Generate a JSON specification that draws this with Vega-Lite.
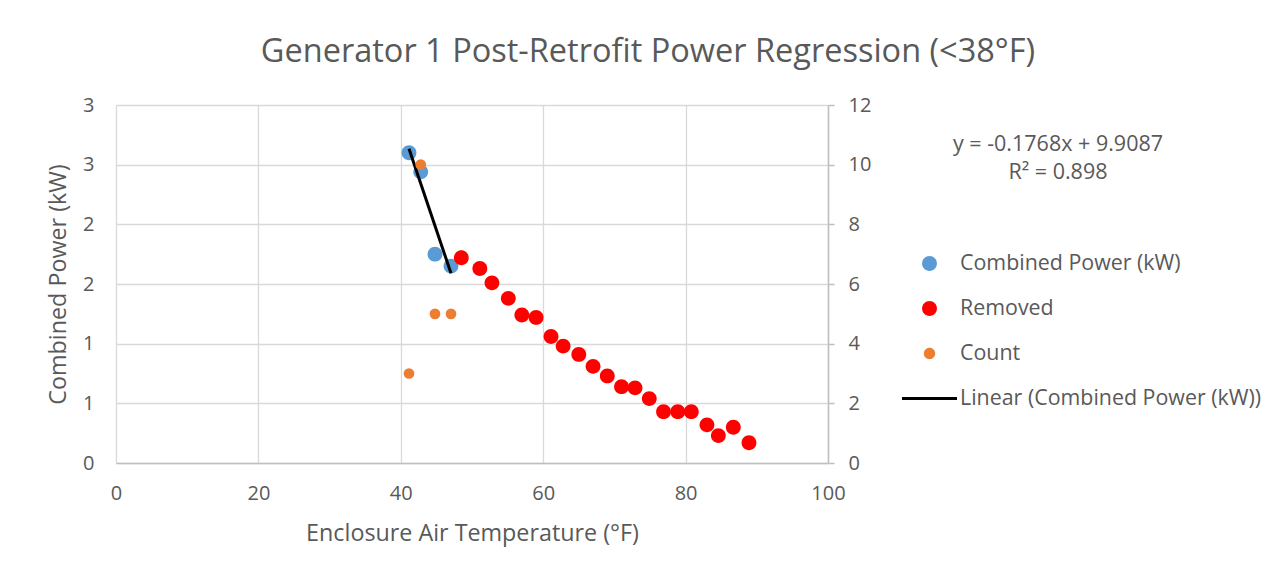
{
  "$schema": "https://vega.github.io/schema/vega-lite/v6.json",
  "width": 712,
  "height": 358,
  "autosize": {"type": "none"},
  "padding": {"left": 116, "top": 105, "right": 458, "bottom": 118},
  "background": "white",
  "title": {
    "text": "Generator 1 Post-Retrofit Power Regression (<38°F)",
    "fontSize": 32.5,
    "font": "Open Sans",
    "fontWeight": "normal",
    "color": "#595959",
    "anchor": "middle",
    "dx": 176,
    "offset": 27
  },
  "config": {
    "font": "Open Sans",
    "view": {"stroke": null},
    "axis": {
      "labelFont": "Open Sans",
      "titleFont": "Open Sans",
      "labelColor": "#595959",
      "titleColor": "#595959",
      "labelFontSize": 20,
      "titleFontSize": 23.3,
      "titleFontWeight": "normal",
      "labelFlush": false,
      "gridColor": "#d9d9d9",
      "gridWidth": 1.3,
      "domainColor": "#bfbfbf",
      "tickColor": "#bfbfbf"
    },
    "legend": {
      "labelFont": "Open Sans",
      "labelFontSize": 21.4,
      "labelColor": "#595959",
      "labelLimit": 500
    }
  },
  "datasets": {
    "power": [
      {"temp": 41.15, "value": 2.60, "series": "Combined Power (kW)"},
      {"temp": 42.8, "value": 2.44, "series": "Combined Power (kW)"},
      {"temp": 44.8, "value": 1.75, "series": "Combined Power (kW)"},
      {"temp": 47.05, "value": 1.65, "series": "Combined Power (kW)"},
      {"temp": 48.5, "value": 1.72, "series": "Removed"},
      {"temp": 51.1, "value": 1.63, "series": "Removed"},
      {"temp": 52.8, "value": 1.51, "series": "Removed"},
      {"temp": 55.1, "value": 1.38, "series": "Removed"},
      {"temp": 57.0, "value": 1.24, "series": "Removed"},
      {"temp": 59.0, "value": 1.22, "series": "Removed"},
      {"temp": 61.1, "value": 1.06, "series": "Removed"},
      {"temp": 62.8, "value": 0.98, "series": "Removed"},
      {"temp": 65.0, "value": 0.91, "series": "Removed"},
      {"temp": 67.0, "value": 0.81, "series": "Removed"},
      {"temp": 69.0, "value": 0.73, "series": "Removed"},
      {"temp": 71.0, "value": 0.64, "series": "Removed"},
      {"temp": 72.9, "value": 0.63, "series": "Removed"},
      {"temp": 74.9, "value": 0.54, "series": "Removed"},
      {"temp": 76.9, "value": 0.43, "series": "Removed"},
      {"temp": 78.9, "value": 0.43, "series": "Removed"},
      {"temp": 80.8, "value": 0.43, "series": "Removed"},
      {"temp": 83.0, "value": 0.32, "series": "Removed"},
      {"temp": 84.6, "value": 0.23, "series": "Removed"},
      {"temp": 86.7, "value": 0.30, "series": "Removed"},
      {"temp": 88.9, "value": 0.17, "series": "Removed"}
    ],
    "trend": [
      {"temp": 41.15, "value": 2.633, "series": "Linear (Combined Power (kW))"},
      {"temp": 47.05, "value": 1.590, "series": "Linear (Combined Power (kW))"}
    ],
    "count": [
      {"temp": 41.15, "count": 3, "series": "Count"},
      {"temp": 42.8, "count": 10, "series": "Count"},
      {"temp": 44.8, "count": 5, "series": "Count"},
      {"temp": 47.05, "count": 5, "series": "Count"}
    ],
    "eq": [
      {"temp": 132.3, "value": 2.663, "label": "y = -0.1768x + 9.9087"},
      {"temp": 132.3, "value": 2.429, "label": "R² = 0.898"}
    ]
  },
  "resolve": {"scale": {"y": "independent"}},
  "layer": [
    {
      "layer": [
        {
          "data": {"name": "power"},
          "mark": {"type": "point", "filled": true, "opacity": 1, "size": 3025},
          "encoding": {
            "x": {
              "field": "temp", "type": "quantitative",
              "scale": {"domain": [0, 100], "nice": false},
              "axis": {
                "title": "Enclosure Air Temperature (°F)",
                "values": [0, 20, 40, 60, 80, 100],
                "ticks": false,
                "domain": true,
                "domainWidth": 1.5,
                "labelFlush": false,
                "labelPadding": 20,
                "titlePadding": 19,
                "grid": true
              }
            },
            "y": {
              "field": "value", "type": "quantitative",
              "scale": {"domain": [0, 3], "nice": false},
              "axis": {
                "title": "Combined Power (kW)",
                "orient": "left",
                "values": [0, 0.5, 1, 1.5, 2, 2.5, 3],
                "labelExpr": "round(datum.value)",
                "ticks": false,
                "domain": false,
                "labelFlush": false,
                "labelPadding": 22,
                "titlePadding": 12,
                "grid": true
              }
            },
            "color": {
              "field": "series", "type": "nominal",
              "scale": {
                "domain": ["Combined Power (kW)", "Removed", "Count", "Linear (Combined Power (kW))"],
                "range": ["#5B9BD5", "#FF0000", "#ED7D31", "#000000"]
              },
              "legend": {
                "title": null,
                "orient": "none",
                "legendX": 786,
                "legendY": 147.5,
                "padding": 0,
                "symbolSize": 3025,
                "symbolStrokeWidth": 0,
                "clipHeight": 22,
                "rowPadding": 23,
                "labelOffset": 3
              }
            },
            "shape": {
              "field": "series", "type": "nominal",
              "scale": {
                "domain": ["Combined Power (kW)", "Removed", "Count", "Linear (Combined Power (kW))"],
                "range": [
                  "M0.27,0A0.27,0.27,0,1,1,-0.27,0A0.27,0.27,0,1,1,0.27,0Z",
                  "M0.27,0A0.27,0.27,0,1,1,-0.27,0A0.27,0.27,0,1,1,0.27,0Z",
                  "M0.207,0A0.207,0.207,0,1,1,-0.207,0A0.207,0.207,0,1,1,0.207,0Z",
                  "M-1,-0.055H1V0.055H-1Z"
                ]
              },
              "legend": {
                "title": null,
                "orient": "none",
                "legendX": 786,
                "legendY": 147.5,
                "padding": 0,
                "symbolSize": 3025,
                "symbolStrokeWidth": 0,
                "clipHeight": 22,
                "rowPadding": 23,
                "labelOffset": 3
              }
            }
          }
        },
        {
          "data": {"name": "trend"},
          "mark": {"type": "line", "strokeWidth": 3},
          "encoding": {
            "x": {"field": "temp", "type": "quantitative"},
            "y": {"field": "value", "type": "quantitative"},
            "color": {"field": "series", "type": "nominal", "legend": null}
          }
        },
        {
          "data": {"name": "eq"},
          "mark": {"type": "text", "fontSize": 21.5, "color": "#595959", "align": "center", "baseline": "middle", "font": "Open Sans"},
          "encoding": {
            "x": {"field": "temp", "type": "quantitative"},
            "y": {"field": "value", "type": "quantitative"},
            "text": {"field": "label"}
          }
        }
      ]
    },
    {
      "data": {"name": "count"},
      "mark": {"type": "point", "filled": true, "shape": "circle", "size": 115, "opacity": 1},
      "encoding": {
        "x": {"field": "temp", "type": "quantitative"},
        "y": {
          "field": "count", "type": "quantitative",
          "scale": {"domain": [0, 12], "nice": false},
          "axis": {
            "title": null,
            "orient": "right",
            "values": [0, 2, 4, 6, 8, 10, 12],
            "ticks": true,
            "tickSize": 6,
            "tickWidth": 1.5,
            "domain": true,
            "domainWidth": 1.5,
            "labelFlush": false,
            "labelPadding": 14,
            "grid": false
          }
        },
        "color": {"field": "series", "type": "nominal", "legend": null}
      }
    }
  ]
}
